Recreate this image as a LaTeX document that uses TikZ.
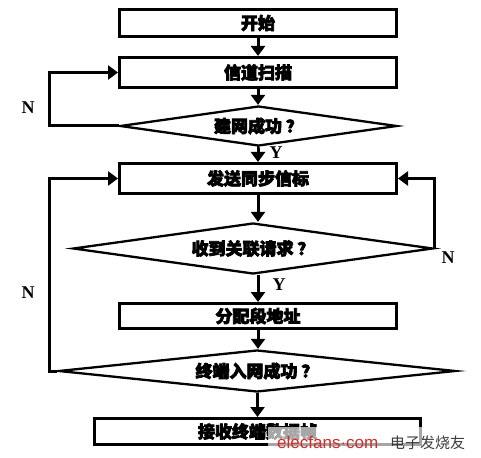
\documentclass[tikz,border=0pt]{standalone}
\usepackage{fontspec}
\setmainfont{Liberation Serif}
\newfontfamily\cjk[BoldFeatures={FakeBold=4}]{Noto Sans CJK SC}
\newfontfamily\wmfont{Liberation Sans}
\usetikzlibrary{shapes.geometric,arrows.meta}
\definecolor{wmred}{HTML}{D42A2A}
\definecolor{wmgray}{HTML}{3A3A3A}
\begin{document}
\begin{tikzpicture}[x=1pt,y=-1pt,
    stepbox/.style={draw,line width=3pt,rectangle,inner sep=0pt,
        font=\cjk\bfseries\fontsize{17}{17}\selectfont},
    test/.style={draw,line width=2.3pt,diamond,inner sep=0pt,
        font=\cjk\bfseries\fontsize{17}{17}\selectfont},
    flow/.style={line width=3pt,-{Triangle[width=14pt,length=10pt]}},
    lbl/.style={font=\bfseries\fontsize{18}{18}\selectfont}]
    \useasboundingbox (0,0) rectangle (481,457);
    % boxes
    \node[stepbox,minimum width=277pt,minimum height=27pt] (start) at (258,23) {开始};
    \node[stepbox,minimum width=277pt,minimum height=30pt] (scan) at (258,72.5) {信道扫描};
    \node[stepbox,minimum width=277pt,minimum height=30pt] (beacon) at (258,178.5) {发送同步信标};
    \node[stepbox,minimum width=277pt,minimum height=25pt] (addr) at (258,316) {分配段地址};
    \node[stepbox,minimum width=326pt,minimum height=26pt] (recv) at (257.5,431.5) {接收终端数据帧};
    % decisions
    \node[test,aspect=6.9,minimum width=277pt,minimum height=40pt] (net) at (258.5,126) {建网成功 ？};
    \node[test,aspect=7,minimum width=360pt,minimum height=51pt] (req) at (253,248.5) {收到关联请求 ？};
    \node[test,aspect=9.5,minimum width=397pt,minimum height=42pt] (join) at (257,371) {终端入网成功 ？};
    % loop lane
    \coordinate (lane) at (49,0);
    % connectors
    \draw[flow] (start.south) -- (scan.north);
    \draw[flow] (scan.south) -- (scan.south |- net.north);
    \draw[flow] (net.south) -- (net.south -| beacon.south) -- (beacon.north);
    \draw[flow] (beacon.south) -- (beacon.south |- req.north);
    \draw[flow] (req.south -| addr.north) -- (addr.north);
    \draw[flow] (addr.south) -- (addr.south |- join.north);
    \draw[flow] (join.south -| recv.north) -- (recv.north);
    \draw[flow] (net.west) -- (net.west -| lane) |- (scan.west);
    \draw[flow] (req.east) |- (beacon.east);
    \draw[flow] (join.west) -- (join.west -| lane) |- (beacon.west);
    % labels
    \node[lbl] (n1) at (28,108) {N};
    \node[lbl] (y1) at (276,153) {Y};
    \node[lbl] (n2) at (448,258) {N};
    \node[lbl] (y2) at (279,285) {Y};
    \node[lbl] (n3) at (28,293) {N};
    % watermark
    \node[fill=white,fill opacity=0.65,text opacity=1,inner sep=0pt,
        minimum width=208pt,minimum height=30pt] (mark) at (372,442) {};
    \node[anchor=base west,inner sep=0pt,text=wmred,font=\wmfont\fontsize{17}{17}\selectfont]
        (site) at (277,448) {elecfans·com};
    \node[anchor=base west,inner sep=0pt,text=wmgray,font=\cjk\fontsize{15}{15}\selectfont]
        (brand) at (390,448) {电子发烧友};
\end{tikzpicture}
\end{document}
